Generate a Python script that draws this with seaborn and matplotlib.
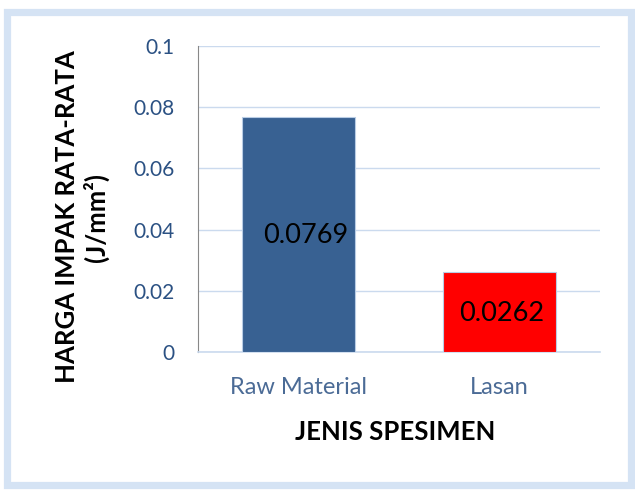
import matplotlib
matplotlib.use("Agg")
import pandas as pd
import seaborn as sns
from matplotlib import pyplot as plt
from matplotlib.patches import Rectangle

# data
categories = ["Raw Material", "Lasan"]
values = [0.0769, 0.0262]
bar_colors = ["#386192", "#ff0000"]
y_ticks = [0, 0.02, 0.04, 0.06, 0.08, 0.1]
y_tick_labels = ["0", "0.02", "0.04", "0.06", "0.08", "0.1"]

df = pd.DataFrame({"jenis": categories, "harga": values})

sns.set_style("white")
plt.rcParams["font.family"] = ["Lato", "DejaVu Sans"]

W, H = 635, 490
fig = plt.figure(figsize=(W / 100, H / 100), dpi=100)
fig.patch.set_facecolor("white")

# light blue frame around the chart
frame = Rectangle((6.5 / W, 5 / H), (631 - 6.5) / W, (478 - 5) / H,
                  transform=fig.transFigure, facecolor="none", edgecolor="#d5e3f4",
                  linewidth=5.2, zorder=5)
fig.patches.append(frame)

ax = fig.add_axes([198 / W, 1 - 352 / H, (600 - 198) / W, (352 - 46) / H])
ax.set_facecolor("none")

sns.barplot(data=df, x="jenis", y="harga", hue="jenis", palette=bar_colors, saturation=1,
            width=0.56, edgecolor="#b9cde5", linewidth=0.8, legend=False, ax=ax, zorder=3)

ax.set_ylim(0, 0.1)
ax.set_xlim(-0.5, 1.5)
ax.set_yticks(y_ticks)
ax.set_yticklabels(y_tick_labels)
ax.yaxis.grid(True, color="#cbdaee", linewidth=1)
ax.set_axisbelow(True)

for side in ["top", "right"]:
    ax.spines[side].set_visible(False)
ax.spines["left"].set_color("#888888")
ax.spines["bottom"].set_color("#cbdaee")
ax.spines["bottom"].set_linewidth(1.2)

ax.tick_params(axis="y", colors="#888888", direction="out", length=6, width=1,
               labelcolor="#2b5183", labelsize=15, pad=11)
ax.tick_params(axis="x", length=0, labelcolor="#4b6b96", labelsize=17, pad=18)
ax.set_xlabel("")
ax.set_ylabel("")

# value labels inside bars
ax.text(0.037, 0.0382, f"{values[0]:.4f}", ha="center", va="center", fontsize=19.5, color="black")
ax.text(1.012, 0.0126, f"{values[1]:.4f}", ha="center", va="center", fontsize=19.5, color="black")

fig.text(395 / W, 1 - 432 / H, "JENIS SPESIMEN", ha="center", va="center",
         fontsize=18.5, fontweight="bold", color="black")
fig.text(82 / W, 1 - 217 / H, "HARGA IMPAK RATA-RATA\n(J/mm²)", ha="center", va="center",
         rotation=90, fontsize=18.5, fontweight="bold", color="black", linespacing=1.15,
         multialignment="center")

fig.savefig("out.png", dpi=100)
